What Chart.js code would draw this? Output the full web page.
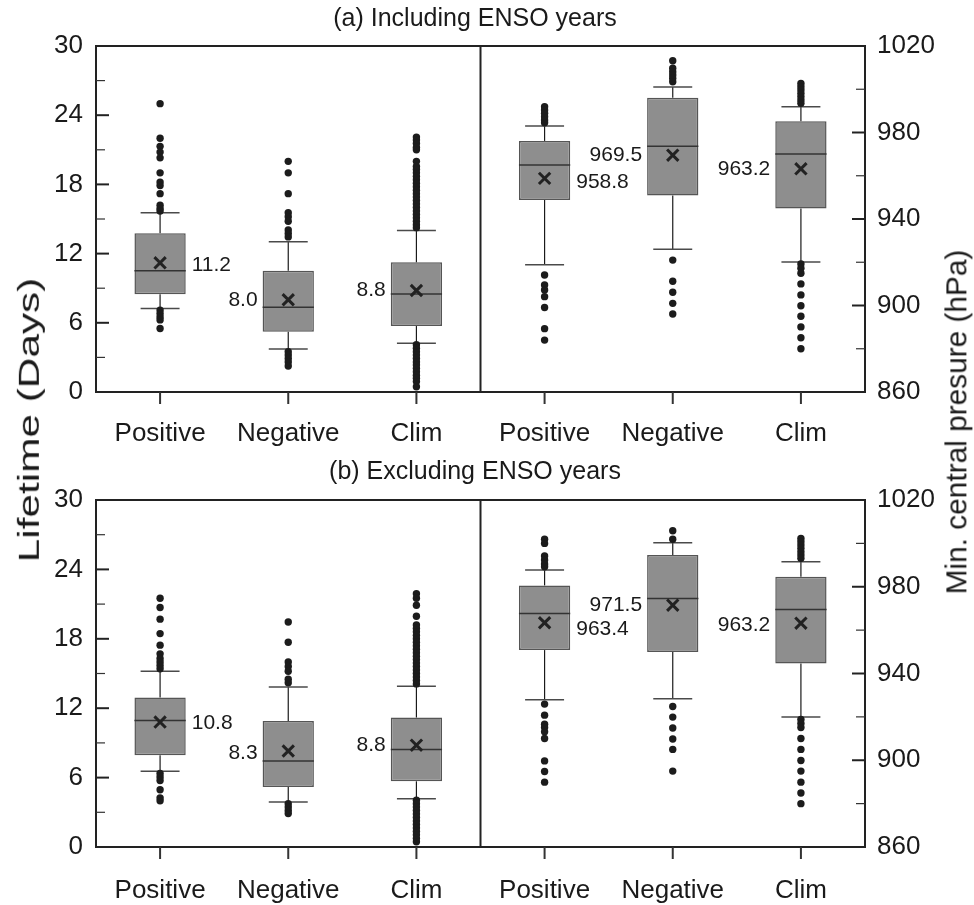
<!DOCTYPE html>
<html>
<head>
<meta charset="utf-8">
<script src="https://cdn.jsdelivr.net/npm/chart.js@4.4.1/dist/chart.umd.min.js"></script>
<style>
html,body{margin:0;padding:0;background:#fff;}
#wrap{position:relative;width:974px;height:905px;overflow:hidden;font-family:"Liberation Sans",Arial,sans-serif;color:#1a1a1a;}
canvas{position:absolute;left:0;}
#cA{top:0;}
#cB{top:452px;}
.ttl{position:absolute;white-space:nowrap;line-height:1;font-size:25px;transform:translate(-50%,-50%);}
.ytitle{position:absolute;white-space:nowrap;line-height:1;font-size:30px;}
</style>
</head>
<body>
<div id="wrap">
<canvas id="cA" width="974" height="452"></canvas>
<canvas id="cB" width="974" height="453"></canvas>
<div id="titleA" class="ttl" style="left:475px;top:17px;"></div>
<div id="titleB" class="ttl" style="left:475px;top:470px;"></div>
<div id="tL" class="ytitle"></div>
<div id="tR" class="ytitle"></div>
</div>
<script>
// ---------- labels ----------
const categories = ['Positive', 'Negative', 'Clim'];
const panelTitles = ['(a) Including ENSO years', '(b) Excluding ENSO years'];
const leftAxisTitle = 'Lifetime (Days)';
const rightAxisTitle = 'Min. central presure (hPa)';
const xTickPositions = [0, 1, 2, 3, 4, 5];
const leftTicks = [0, 6, 12, 18, 24, 30];
const leftMinorTicks = [3, 9, 15, 21, 27];
const rightTicks = [860, 900, 940, 980, 1020];
const rightMinorTicks = [880, 920, 960, 1000];

// ---------- (a) Including ENSO years : lifetime (days) ----------
const aLifeLow    = [7.25, 3.73, 4.22];
const aLifeQ1     = [8.47, 5.23, 5.72];
const aLifeMedian = [10.52, 7.34, 8.5];
const aLifeQ3     = [13.76, 10.52, 11.24];
const aLifeHigh   = [15.55, 13.03, 14.0];
const aLifeMean   = [11.2, 8.0, 8.8];
const aLifeOutPositive = [25.0, 22.0, 21.3, 20.8, 20.3, 19.0, 18.2, 17.9, 17.2, 16.2, 15.9, 15.7, 7.1, 6.8, 6.5, 6.25, 5.5];
const aLifeOutNegative = [20.0, 19.0, 17.2, 15.55, 15.2, 14.8, 14.05, 13.75, 13.45, 3.5, 3.2, 2.9, 2.6, 2.25];
const aLifeOutClim = [22.1, 21.85, 21.55, 21.2, 21.0, 20.0, 19.55, 19.3, 19.0, 18.7, 18.4, 18.1, 17.8, 17.5, 17.2, 16.9, 16.6, 16.3, 16.0, 15.7, 15.4, 15.1, 14.8, 14.5, 14.25,
  4.1, 3.8, 3.5, 3.2, 2.9, 2.6, 2.35, 2.05, 1.75, 1.45, 1.2, 0.9, 0.45];

// ---------- (a) Including ENSO years : min central pressure (hPa) ----------
const aPresLow    = [918.9, 926.0, 920.1];
const aPresQ1     = [948.8, 950.9, 944.9];
const aPresMedian = [965.0, 973.6, 970.1];
const aPresQ3     = [976.1, 996.1, 985.2];
const aPresHigh   = [983.0, 1001.0, 991.9];
const aPresMean   = [958.8, 969.5, 963.2];
const aPresOutPositive = [991.9, 990.4, 988.9, 987.3, 985.8, 984.5, 914.1, 909.5, 907.2, 904.1, 899.1, 889.3, 884.0];
const aPresOutNegative = [1013.2, 1009.7, 1008.1, 1006.6, 1005.1, 1003.5, 921.0, 911.2, 906.1, 901.0, 896.1];
const aPresOutClim = [1002.7, 1001.2, 999.7, 998.1, 996.6, 995.0, 993.5, 919.2, 917.2, 914.9, 910.0, 904.9, 899.9, 895.0, 890.1, 885.1, 880.0];

// ---------- (b) Excluding ENSO years : lifetime (days) ----------
const bLifeLow    = [6.55, 3.89, 4.18];
const bLifeQ1     = [7.93, 5.19, 5.68];
const bLifeMedian = [10.93, 7.44, 8.42];
const bLifeQ3     = [12.92, 10.9, 11.19];
const bLifeHigh   = [15.2, 13.84, 13.9];
const bLifeMean   = [10.8, 8.3, 8.8];
const bLifeOutPositive = [21.5, 20.7, 19.7, 18.45, 17.45, 16.7, 16.3, 16.0, 15.7, 15.4, 6.35, 6.05, 5.75, 4.95, 4.25, 4.0];
const bLifeOutNegative = [19.45, 17.7, 16.0, 15.6, 15.2, 14.5, 14.2, 3.75, 3.45, 3.15, 2.9];
const bLifeOutClim = [21.9, 21.5, 20.9, 19.95, 19.2, 18.9, 18.6, 18.3, 18.0, 17.7, 17.4, 17.1, 16.8, 16.5, 16.2, 15.9, 15.6, 15.3, 15.0, 14.7, 14.4, 14.1,
  4.05, 3.75, 3.45, 3.15, 2.85, 2.55, 2.25, 1.95, 1.65, 1.35, 1.05, 0.75, 0.45];

// ---------- (b) Excluding ENSO years : min central pressure (hPa) ----------
const bPresLow    = [927.9, 928.3, 919.9];
const bPresQ1     = [950.8, 949.9, 944.6];
const bPresMedian = [967.7, 974.6, 969.5];
const bPresQ3     = [980.6, 994.6, 984.6];
const bPresHigh   = [987.7, 1000.3, 991.5];
const bPresMean   = [963.4, 971.5, 963.2];
const bPresOutPositive = [1001.9, 1000.0, 994.2, 992.3, 990.5, 989.2, 925.9, 920.8, 916.6, 915.1, 913.1, 910.0, 899.7, 894.8, 889.9];
const bPresOutNegative = [1005.8, 1001.9, 924.8, 919.9, 914.9, 909.8, 905.0, 895.0];
const bPresOutClim = [1002.3, 1000.8, 999.2, 997.7, 996.1, 994.6, 993.1, 918.8, 917.0, 915.1, 910.0, 905.0, 899.9, 895.0, 889.9, 884.9, 880.0];

// ---------- layout / style (not data) ----------
const FONT = '"Liberation Sans", Arial, sans-serif';
const INK = '#1a1a1a';
const labelSide = ['right', 'left', 'left'];

document.getElementById('titleA').textContent = panelTitles[0];
document.getElementById('titleB').textContent = panelTitles[1];

function placeYTitle(id, text, cx, cy, len) {
  const el = document.getElementById(id);
  el.textContent = text;
  const w = el.offsetWidth;
  const k = len / w;
  el.style.left = (cx - w / 2) + 'px';
  el.style.top = (cy - el.offsetHeight / 2) + 'px';
  el.style.transform = 'rotate(-90deg) scaleX(' + k.toFixed(3) + ')';
}
placeYTitle('tL', leftAxisTitle, 29, 420, 285);
placeYTitle('tR', rightAxisTitle, 956, 422, 345);

function makeExtras(p) {
  function line(ctx, x1, y1, x2, y2) { ctx.beginPath(); ctx.moveTo(x1, y1); ctx.lineTo(x2, y2); ctx.stroke(); }
  const groups = () => [[p.left, 0, 'yL', p.leftDy], [p.right, 3, 'yR', p.rightDy]];
  return {
    id: 'extras',
    beforeDatasetsDraw(chart) {
      const ctx = chart.ctx, x = chart.scales.x;
      const step = x.getPixelForValue(1) - x.getPixelForValue(0);
      groups().forEach(([s, off, ax]) => {
        const y = chart.scales[ax];
        s.q1.forEach((_, i) => {
          const cx = x.getPixelForValue(i + off);
          ctx.save();
          ctx.strokeStyle = '#1a1a1a'; ctx.lineWidth = 1.2;
          line(ctx, cx, y.getPixelForValue(s.low[i]), cx, y.getPixelForValue(s.q1[i]));
          line(ctx, cx, y.getPixelForValue(s.q3[i]), cx, y.getPixelForValue(s.high[i]));
          ctx.strokeStyle = '#4a4a4a'; ctx.lineWidth = 1.5;
          const hw = step * 0.152;
          [s.low[i], s.high[i]].forEach(v => {
            const py = y.getPixelForValue(v);
            line(ctx, cx - hw, py, cx + hw, py);
          });
          ctx.restore();
        });
      });
    },
    afterDatasetDraw(chart, args) {
      const meta = args.meta;
      if (meta.type !== 'bar') return;
      const s = meta.yAxisID === 'yL' ? p.left : p.right;
      const y = chart.scales[meta.yAxisID];
      const ctx = chart.ctx;
      ctx.save(); ctx.strokeStyle = '#333'; ctx.lineWidth = 1.5;
      meta.data.forEach((bar, i) => {
        const py = y.getPixelForValue(s.med[i]);
        line(ctx, bar.x - bar.width / 2, py, bar.x + bar.width / 2, py);
      });
      ctx.restore();
    },
    afterDraw(chart) {
      const ctx = chart.ctx, a = chart.chartArea, sc = chart.scales;
      ctx.save();
      ctx.strokeStyle = '#222'; ctx.lineWidth = 2;
      ctx.strokeRect(a.left, a.top, a.right - a.left, a.bottom - a.top);
      const dx = sc.x.getPixelForValue(2.5);
      line(ctx, dx, a.top, dx, a.bottom);
      leftTicks.forEach(v => { const py = sc.yL.getPixelForValue(v); line(ctx, a.left, py, a.left + 13, py); });
      rightTicks.forEach(v => { const py = sc.yR.getPixelForValue(v); line(ctx, a.right, py, a.right - 13, py); });
      ctx.strokeStyle = '#333';
      xTickPositions.forEach(v => { const px = sc.x.getPixelForValue(v); line(ctx, px, a.bottom, px, a.bottom + 12); });
      ctx.lineWidth = 1.2;
      leftMinorTicks.forEach(v => { const py = sc.yL.getPixelForValue(v); line(ctx, a.left, py, a.left + 9, py); });
      rightMinorTicks.forEach(v => { const py = sc.yR.getPixelForValue(v); line(ctx, a.right, py, a.right - 9, py); });
      ctx.font = '21px ' + FONT; ctx.fillStyle = INK; ctx.textBaseline = 'middle';
      groups().forEach(([s, off, ax, dys]) => {
        const meta = chart.getDatasetMeta(chart.data.datasets.findIndex(d => d.type === 'bar' && d.yAxisID === ax));
        const y = sc[ax];
        s.mean.forEach((v, i) => {
          const bar = meta.data[i];
          const side = labelSide[i];
          const px = side === 'right' ? bar.x + bar.width / 2 + 6 : bar.x - bar.width / 2 - 5;
          ctx.textAlign = side === 'right' ? 'left' : 'right';
          ctx.fillText(v.toFixed(1), px, y.getPixelForValue(v) + dys[i]);
        });
      });
      ctx.restore();
    }
  };
}

function buildPanel(canvasId, p, g) {
  const boxes = (s, off, ax) => ({
    type: 'bar', yAxisID: ax, grouped: false, order: 3,
    data: s.q1.map((q, i) => ({ x: i + off, y: [q, s.q3[i]] })),
    backgroundColor: '#8e8e8e', borderColor: '#555555', borderWidth: 1.5, borderSkipped: false,
    barPercentage: 0.4, categoryPercentage: 1.0
  });
  const outliers = (lists, off, ax) => ({
    type: 'scatter', yAxisID: ax, order: 1,
    data: lists.flatMap((vals, i) => vals.map(v => ({ x: i + off, y: v }))),
    pointStyle: 'circle', pointRadius: 3.7, backgroundColor: '#1c1c1c', borderWidth: 0
  });
  const means = (s, off, ax) => ({
    type: 'scatter', yAxisID: ax, order: 0,
    data: s.mean.map((v, i) => ({ x: i + off, y: v })),
    pointStyle: 'crossRot', pointRadius: 8, borderColor: '#222', borderWidth: 3, backgroundColor: 'rgba(0,0,0,0)'
  });
  const tickFont = { size: 26, family: FONT };
  return new Chart(document.getElementById(canvasId), {
    type: 'bar',
    data: {
      datasets: [
        means(p.left, 0, 'yL'), means(p.right, 3, 'yR'),
        outliers(p.leftOut, 0, 'yL'), outliers(p.rightOut, 3, 'yR'),
        boxes(p.left, 0, 'yL'), boxes(p.right, 3, 'yR')
      ]
    },
    options: {
      responsive: false, animation: false, events: [],
      layout: { padding: { top: g.top, left: 0, right: 0, bottom: 0 } },
      plugins: { legend: { display: false }, tooltip: { enabled: false }, title: { display: false } },
      scales: {
        x: {
          type: 'linear', position: 'bottom', min: -0.5, max: 5.5, offset: false,
          grid: { display: false }, border: { display: false },
          afterBuildTicks: s => { s.ticks = xTickPositions.map(v => ({ value: v })); },
          ticks: { callback: v => categories[v % 3], font: tickFont, color: INK, padding: g.xPad, autoSkip: false, maxRotation: 0 },
          afterFit: s => { s.height = g.xH; }
        },
        yL: {
          type: 'linear', position: 'left', min: 0, max: 30,
          grid: { display: false, drawTicks: false }, border: { display: false },
          afterBuildTicks: s => { s.ticks = leftTicks.map(v => ({ value: v })); },
          ticks: { font: tickFont, color: INK, padding: 13, callback: v => String(v) },
          afterFit: s => { s.width = 96; }
        },
        yR: {
          type: 'linear', position: 'right', min: 860, max: 1020,
          grid: { display: false, drawTicks: false }, border: { display: false },
          afterBuildTicks: s => { s.ticks = rightTicks.map(v => ({ value: v })); },
          ticks: { font: tickFont, color: INK, padding: 12, callback: v => String(v) },
          afterFit: s => { s.width = 109; }
        }
      }
    },
    plugins: [makeExtras(p)]
  });
}

buildPanel('cA', {
  left:  { low: aLifeLow, q1: aLifeQ1, med: aLifeMedian, q3: aLifeQ3, high: aLifeHigh, mean: aLifeMean },
  right: { low: aPresLow, q1: aPresQ1, med: aPresMedian, q3: aPresQ3, high: aPresHigh, mean: aPresMean },
  leftOut: [aLifeOutPositive, aLifeOutNegative, aLifeOutClim],
  rightOut: [aPresOutPositive, aPresOutNegative, aPresOutClim],
  leftDy: [2, 0, 0], rightDy: [3.5, 0, 0.5]
}, { top: 46, xH: 60, xPad: 18 });

buildPanel('cB', {
  left:  { low: bLifeLow, q1: bLifeQ1, med: bLifeMedian, q3: bLifeQ3, high: bLifeHigh, mean: bLifeMean },
  right: { low: bPresLow, q1: bPresQ1, med: bPresMedian, q3: bPresQ3, high: bPresHigh, mean: bPresMean },
  leftOut: [bLifeOutPositive, bLifeOutNegative, bLifeOutClim],
  rightOut: [bPresOutPositive, bPresOutNegative, bPresOutClim],
  leftDy: [1.5, 2.5, 0], rightDy: [6.5, 0.5, 2]
}, { top: 48, xH: 58, xPad: 20 });
</script>
</body>
</html>
